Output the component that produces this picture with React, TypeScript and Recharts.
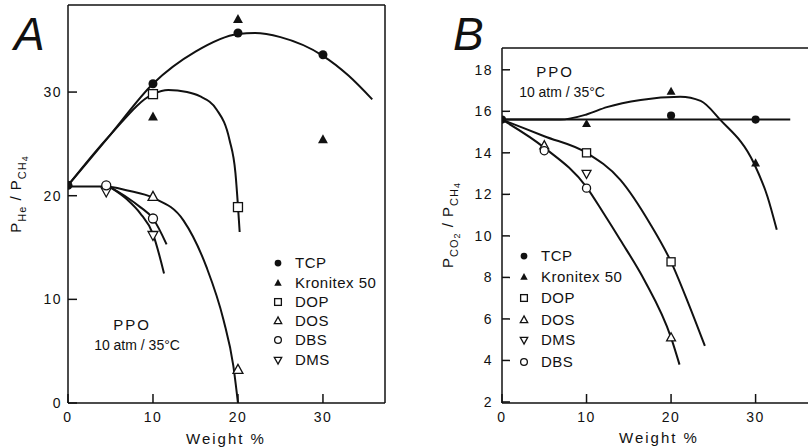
import { ComposedChart, Line, Scatter, XAxis, YAxis } from 'recharts';

// ---- Panel A: P_He / P_CH4 vs weight % (measured points) ----
const A_TCP_X = [0, 10, 20, 30];
const A_TCP_Y = [21.0, 30.8, 35.7, 33.6];
const A_KRON_X = [10, 20, 30];
const A_KRON_Y = [27.6, 37.0, 25.4];
const A_DOP_X = [10, 20];
const A_DOP_Y = [29.8, 18.9];
const A_DOS_X = [10, 20];
const A_DOS_Y = [19.9, 3.2];
const A_DBS_X = [4.5, 10];
const A_DBS_Y = [21.0, 17.8];
const A_DMS_X = [4.5, 10];
const A_DMS_Y = [20.4, 16.2];

// hand-drawn fit curves
const A_FIT_TCP_X = [0, 5, 10, 15, 20, 22, 25, 30, 33, 35.8];
const A_FIT_TCP_Y = [21.0, 25.9, 30.8, 33.9, 35.6, 35.7, 35.3, 33.5, 31.6, 29.3];
const A_FIT_DOP_X = [0, 5, 10, 11.8, 14, 15.5, 17.5, 19, 19.7, 20, 20.2];
const A_FIT_DOP_Y = [21.0, 25.9, 29.8, 30.2, 30.0, 29.6, 28.3, 25.4, 22.2, 19.0, 16.5];
const A_FIT_DOS_X = [0, 4.5, 7, 10, 13.6, 16.3, 18.3, 19.45, 20.0];
const A_FIT_DOS_Y = [20.9, 20.9, 20.5, 19.8, 17.6, 13.1, 8.0, 3.6, 0];
const A_FIT_DBS_X = [5, 7, 8.5, 10, 11.6];
const A_FIT_DBS_Y = [20.8, 19.8, 18.9, 17.8, 15.3];
const A_FIT_DMS_X = [5, 7, 8.5, 10, 11.3];
const A_FIT_DMS_Y = [20.8, 19.6, 18.3, 16.3, 12.5];

const A_X_TICKS = [0, 10, 20, 30];
const A_Y_TICKS = [0, 10, 20, 30];

// ---- Panel B: P_CO2 / P_CH4 vs weight % ----
const B_TCP_X = [0, 20, 30];
const B_TCP_Y = [15.6, 15.8, 15.6];
const B_KRON_X = [10, 20, 30];
const B_KRON_Y = [15.4, 16.95, 13.5];
const B_DOP_X = [10, 20];
const B_DOP_Y = [14.0, 8.75];
const B_DOS_X = [5, 20];
const B_DOS_Y = [14.35, 5.1];
const B_DMS_X = [10];
const B_DMS_Y = [13.0];
const B_DBS_X = [5, 10];
const B_DBS_Y = [14.1, 12.3];

const B_FIT_TCP_X = [0, 34.1];
const B_FIT_TCP_Y = [15.6, 15.6];
const B_FIT_KRON_X = [0, 6.9, 10, 12.4, 16.4, 21.1, 23.5, 25.8, 29.8, 31.4, 32.5];
const B_FIT_KRON_Y = [15.6, 15.6, 15.85, 16.2, 16.55, 16.7, 16.5, 15.6, 13.5, 11.9, 10.3];
const B_FIT_DOP_X = [0, 5, 10, 14, 17.5, 20, 22, 24];
const B_FIT_DOP_Y = [15.6, 14.8, 14.0, 12.7, 10.6, 8.75, 6.8, 4.7];
const B_FIT_LOW_X = [0, 5, 10, 12, 14, 16.8, 20, 21];
const B_FIT_LOW_Y = [15.6, 14.25, 12.35, 11.1, 9.8, 7.9, 5.1, 3.8];

const B_X_TICKS = [0, 10, 20, 30];
const B_Y_TICKS = [2, 4, 6, 8, 10, 12, 14, 16, 18];

const INK = '#111';
const FONT = '"Liberation Sans", Arial, sans-serif';

const zip = (xs: number[], ys: number[]) => xs.map((x, i) => ({ x, y: ys[i] }));

type Kind = 'dot' | 'tri' | 'sq' | 'triOpen' | 'circOpen' | 'triDown';

function Mark({ kind, cx, cy, s = 1 }: { kind: Kind; cx: number; cy: number; s?: number }) {
  const r = 4.5 * s;
  const open = { fill: '#fff', stroke: INK, strokeWidth: 1.3 };
  switch (kind) {
    case 'dot':
      return <circle cx={cx} cy={cy} r={r} fill={INK} />;
    case 'tri':
      return <polygon points={`${cx},${cy - r * 1.2} ${cx - r * 1.1},${cy + r * 0.8} ${cx + r * 1.1},${cy + r * 0.8}`} fill={INK} />;
    case 'sq':
      return <rect x={cx - r} y={cy - r} width={r * 2} height={r * 2} {...open} />;
    case 'triOpen':
      return <polygon points={`${cx},${cy - r * 1.2} ${cx - r * 1.1},${cy + r * 0.8} ${cx + r * 1.1},${cy + r * 0.8}`} {...open} />;
    case 'circOpen':
      return <circle cx={cx} cy={cy} r={r} {...open} />;
    case 'triDown':
      return <polygon points={`${cx},${cy + r * 1.2} ${cx - r * 1.1},${cy - r * 0.8} ${cx + r * 1.1},${cy - r * 0.8}`} {...open} />;
  }
  return null;
}

const shapeOf = (kind: Kind, s = 1) => (p: any) => <Mark kind={kind} cx={p.cx} cy={p.cy} s={s} />;

const tickStyle = { fill: INK, fontSize: 14, fontFamily: FONT, letterSpacing: 1.5 };

function fit(xs: number[], ys: number[], key: string) {
  return (
    <Line
      key={key}
      data={zip(xs, ys)}
      dataKey="y"
      xAxisId="b"
      yAxisId="l"
      type="monotone"
      stroke={INK}
      strokeWidth={2}
      dot={false}
      activeDot={false}
      isAnimationActive={false}
    />
  );
}

function pts(xs: number[], ys: number[], kind: Kind, key: string, s = 1) {
  return (
    <Scatter
      key={key}
      data={zip(xs, ys)}
      xAxisId="b"
      yAxisId="l"
      shape={shapeOf(kind, s)}
      isAnimationActive={false}
    />
  );
}

// axes are 1px thick boxes so margins = plot edge - 1
function PanelA() {
  return (
    <ComposedChart width={400} height={447} margin={{ top: 4, right: 14, bottom: 43, left: 67 }}>
      <XAxis xAxisId="b" type="number" dataKey="x" domain={[0, 37.3]} ticks={A_X_TICKS} allowDataOverflow
        height={1} tickSize={-9} tickMargin={18} tick={tickStyle} stroke={INK} strokeWidth={1.5} />
      <XAxis xAxisId="t" orientation="top" type="number" dataKey="x" domain={[0, 37.3]} ticks={A_X_TICKS} allowDataOverflow
        height={1} tickSize={-8} tick={false} stroke={INK} strokeWidth={1.5} />
      <YAxis yAxisId="l" type="number" dataKey="y" domain={[0, 38.4]} ticks={A_Y_TICKS} allowDataOverflow
        width={1} tickSize={-9} tickMargin={15} tick={tickStyle} stroke={INK} strokeWidth={1.5} />
      <YAxis yAxisId="r" orientation="right" type="number" domain={[0, 38.4]} ticks={A_Y_TICKS} allowDataOverflow
        width={1} tickSize={-8} tick={false} stroke={INK} strokeWidth={1.5} />
      {fit(A_FIT_TCP_X, A_FIT_TCP_Y, 'f1')}
      {fit(A_FIT_DOP_X, A_FIT_DOP_Y, 'f2')}
      {fit(A_FIT_DOS_X, A_FIT_DOS_Y, 'f3')}
      {fit(A_FIT_DBS_X, A_FIT_DBS_Y, 'f4')}
      {fit(A_FIT_DMS_X, A_FIT_DMS_Y, 'f5')}
      {pts(A_TCP_X, A_TCP_Y, 'dot', 'p1')}
      {pts(A_KRON_X, A_KRON_Y, 'tri', 'p2')}
      {pts(A_DOP_X, A_DOP_Y, 'sq', 'p3')}
      {pts(A_DOS_X, A_DOS_Y, 'triOpen', 'p4')}
      {pts(A_DMS_X, A_DMS_Y, 'triDown', 'p6')}
      {pts(A_DBS_X, A_DBS_Y, 'circOpen', 'p5')}
    </ComposedChart>
  );
}

function PanelB() {
  return (
    <ComposedChart width={409} height={447} margin={{ top: 47, right: 0, bottom: 43, left: 101 }}>
      <XAxis xAxisId="b" type="number" dataKey="x" domain={[0, 36.2]} ticks={B_X_TICKS} allowDataOverflow
        height={1} tickSize={-9} tickMargin={18} tick={tickStyle} stroke={INK} strokeWidth={1.5} />
      <XAxis xAxisId="t" orientation="top" type="number" dataKey="x" domain={[0, 36.2]} ticks={B_X_TICKS} allowDataOverflow
        height={1} tickSize={-9} tick={false} stroke={INK} strokeWidth={1.5} />
      <YAxis yAxisId="l" type="number" dataKey="y" domain={[1.95, 19.05]} ticks={B_Y_TICKS} allowDataOverflow
        width={1} tickSize={-8} tickMargin={17} tick={tickStyle} stroke={INK} strokeWidth={1.5} />
      <YAxis yAxisId="r" orientation="right" type="number" domain={[1.95, 19.05]} ticks={B_Y_TICKS} allowDataOverflow
        width={1} tickSize={-5} tick={false} axisLine={false} stroke={INK} strokeWidth={1} />
      {fit(B_FIT_TCP_X, B_FIT_TCP_Y, 'f1')}
      {fit(B_FIT_KRON_X, B_FIT_KRON_Y, 'f2')}
      {fit(B_FIT_DOP_X, B_FIT_DOP_Y, 'f3')}
      {fit(B_FIT_LOW_X, B_FIT_LOW_Y, 'f4')}
      {pts(B_TCP_X, B_TCP_Y, 'dot', 'p1', 0.9)}
      {pts(B_KRON_X, B_KRON_Y, 'tri', 'p2', 0.9)}
      {pts(B_DOP_X, B_DOP_Y, 'sq', 'p3', 0.9)}
      {pts(B_DOS_X, B_DOS_Y, 'triOpen', 'p4', 0.9)}
      {pts(B_DMS_X, B_DMS_Y, 'triDown', 'p5', 0.9)}
      {pts(B_DBS_X, B_DBS_Y, 'circOpen', 'p6', 0.9)}
    </ComposedChart>
  );
}

const LEGEND_A: [Kind, string][] = [
  ['dot', 'TCP'], ['tri', 'Kronitex 50'], ['sq', 'DOP'], ['triOpen', 'DOS'], ['circOpen', 'DBS'], ['triDown', 'DMS'],
];
const LEGEND_B: [Kind, string][] = [
  ['dot', 'TCP'], ['tri', 'Kronitex 50'], ['sq', 'DOP'], ['triOpen', 'DOS'], ['triDown', 'DMS'], ['circOpen', 'DBS'],
];

function Legend({ items, x, ys }: { items: [Kind, string][]; x: number; ys: number[] }) {
  return (
    <g>
      {items.map(([k, name], i) => (
        <g key={name}>
          <Mark kind={k} cx={x} cy={ys[i]} s={0.75} />
          <text x={x + 17} y={ys[i]} dy="0.36em" fontSize={15} fill={INK} letterSpacing={0.5}>{name}</text>
        </g>
      ))}
    </g>
  );
}

function Overlay() {
  return (
    <svg width={809} height={447} style={{ position: 'absolute', left: 0, top: 0, pointerEvents: 'none' }}
      fontFamily={FONT}>
      <text x={14} y={50} fontSize={46} fontStyle="italic" fill={INK}>A</text>
      <text x={453} y={50} fontSize={46} fontStyle="italic" fill={INK}>B</text>

      <text transform="translate(21,194) rotate(-90)" textAnchor="middle" fontSize={15} fill={INK} letterSpacing={1}>
        P<tspan dy={5} fontSize={11}>He</tspan><tspan dy={-5}> / P</tspan><tspan dy={5} fontSize={11}>CH</tspan><tspan dy={2} fontSize={9}>4</tspan>
      </text>
      <text transform="translate(453,225) rotate(-90)" textAnchor="middle" fontSize={15} fill={INK} letterSpacing={1}>
        P<tspan dy={5} fontSize={11}>CO</tspan><tspan dy={2} fontSize={9}>2</tspan><tspan dy={-7}> / P</tspan><tspan dy={5} fontSize={11}>CH</tspan><tspan dy={2} fontSize={9}>4</tspan>
      </text>

      <text x={226} y={444} textAnchor="middle" fontSize={15} fill={INK} letterSpacing={2}>Weight %</text>
      <text x={659} y={443} textAnchor="middle" fontSize={15} fill={INK} letterSpacing={2}>Weight %</text>

      <text x={132} y={330} textAnchor="middle" fontSize={15} fill={INK} letterSpacing={2}>PPO</text>
      <text x={137} y={350} textAnchor="middle" fontSize={14} fill={INK}>10 atm / 35°C</text>
      <text x={555} y={77} textAnchor="middle" fontSize={15} fill={INK} letterSpacing={2}>PPO</text>
      <text x={562} y={97} textAnchor="middle" fontSize={14} fill={INK}>10 atm / 35°C</text>

      <Legend items={LEGEND_A} x={278} ys={[263, 283, 302, 321, 340, 360]} />
      <Legend items={LEGEND_B} x={524} ys={[256, 277, 298, 320, 340, 362]} />
    </svg>
  );
}

export default function App() {
  return (
    <div style={{ position: 'absolute', left: 0, top: 0, width: 809, height: 447, background: '#fff', fontFamily: FONT }}>
      <div style={{ position: 'absolute', left: 0, top: 0 }}>
        <PanelA />
      </div>
      <div style={{ position: 'absolute', left: 400, top: 0 }}>
        <PanelB />
      </div>
      <Overlay />
    </div>
  );
}
